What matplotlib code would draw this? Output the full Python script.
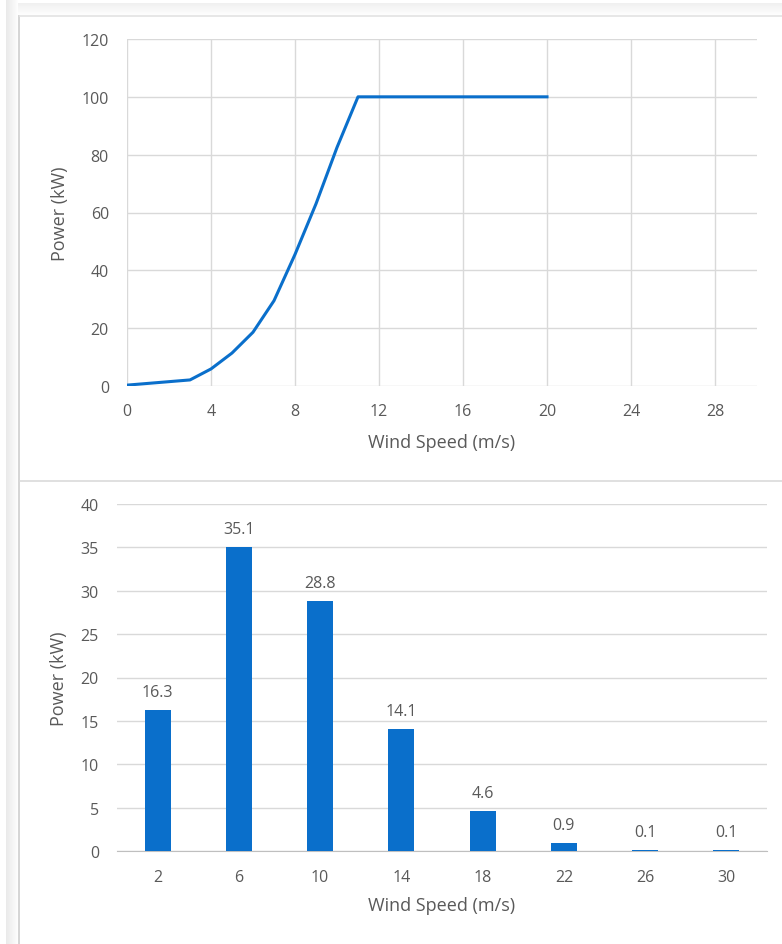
import matplotlib.pyplot as plt
import matplotlib.patches as patches
import numpy as np

plt.rcParams['font.family'] = ['Open Sans', 'DejaVu Sans']

# power curve (top chart)
curve_speed = [0, 1, 2, 3, 4, 5, 6, 7, 8, 9, 10, 11, 12, 13, 14, 15, 16, 17, 18, 19, 20]
curve_power = [0.3, 0.9, 1.5, 2.1, 5.9, 11.4, 18.6, 29.5, 45.5, 63, 82.5, 100, 100, 100, 100, 100, 100, 100, 100, 100, 100]

# binned power (bottom chart)
bin_labels = ['2', '6', '10', '14', '18', '22', '26', '30']
bin_power = [16.3, 35.1, 28.8, 14.1, 4.6, 0.9, 0.1, 0.1]

text_col = '#595959'
grid_col = '#D9D9D9'
blue = '#0A6FCB'

W, H = 782, 945
fig = plt.figure(figsize=(W / 100, H / 100), dpi=100)
fig.patch.set_facecolor('white')

# page frame: soft shadow on left / top and thin border
bg = fig.add_axes([0, 0, 1, 1])
bg.set_xlim(0, W)
bg.set_ylim(H, 0)
bg.axis('off')
for i in range(12):
    a = 0.16 * (1 - i / 12)
    bg.add_patch(patches.Rectangle((6 + i, 0), 1, H, color='#7F7F7F', alpha=a, lw=0))
    bg.add_patch(patches.Rectangle((18, 4 + i), W, 1, color='#7F7F7F', alpha=a * 0.7, lw=0))
bg.add_patch(patches.Rectangle((18, 16), 2, H, color='#D6D6D6', lw=0))
bg.plot([20, W], [16.5, 16.5], color='#E3E3E3', lw=1.2)
bg.plot([20, W], [481.5, 481.5], color='#DADADA', lw=1.2)

tick_fs = 11.5
label_fs = 13

# ---- top: power curve ----
ax1 = fig.add_axes([127 / W, 1 - 387 / H, 630 / W, 347 / H])
ax1.plot(curve_speed, curve_power, color=blue, lw=2.2, solid_joinstyle='round')
ax1.set_xlim(0, 30)
ax1.set_ylim(0, 120)
ax1.set_xticks(np.arange(0, 29, 4))
ax1.set_yticks(np.arange(0, 121, 20))
ax1.grid(True, color=grid_col, lw=1)
ax1.set_axisbelow(True)
for s in ax1.spines.values():
    s.set_visible(False)
ax1.tick_params(axis='y', length=0, labelsize=tick_fs, colors=text_col, pad=13)
ax1.tick_params(axis='x', length=0, labelsize=tick_fs, colors=text_col, pad=12)
ax1.set_xlabel('Wind Speed (m/s)', fontsize=label_fs, color=text_col, labelpad=10)
ax1.set_ylabel('Power (kW)', fontsize=label_fs, color=text_col, labelpad=9)

# ---- bottom: power by wind speed bin ----
ax2 = fig.add_axes([117 / W, 1 - 852 / H, 650 / W, 347 / H])
xpos = np.arange(len(bin_labels))
bars = ax2.bar(xpos, bin_power, width=0.32, color=blue, zorder=3)
for x, v in zip(xpos, bin_power):
    ax2.annotate(f'{v:.1f}', (x, v), xytext=(0, 7), textcoords='offset points',
                 ha='center', va='bottom', fontsize=tick_fs, color=text_col)
ax2.set_xlim(-0.5, len(bin_labels) - 0.5)
ax2.set_ylim(0, 40)
ax2.set_xticks(xpos)
ax2.set_xticklabels(bin_labels)
ax2.set_yticks(np.arange(0, 41, 5))
ax2.yaxis.grid(True, color=grid_col, lw=1)
ax2.set_axisbelow(True)
for s in ax2.spines.values():
    s.set_visible(False)
ax2.spines['bottom'].set_visible(True)
ax2.spines['bottom'].set_color('#BFBFBF')
ax2.tick_params(axis='y', length=0, labelsize=tick_fs, colors=text_col, pad=13)
ax2.tick_params(axis='x', length=0, labelsize=tick_fs, colors=text_col, pad=13)
ax2.set_xlabel('Wind Speed (m/s)', fontsize=label_fs, color=text_col, labelpad=8)
ax2.set_ylabel('Power (kW)', fontsize=label_fs, color=text_col, labelpad=9)

fig.savefig('out.png', dpi=100)
